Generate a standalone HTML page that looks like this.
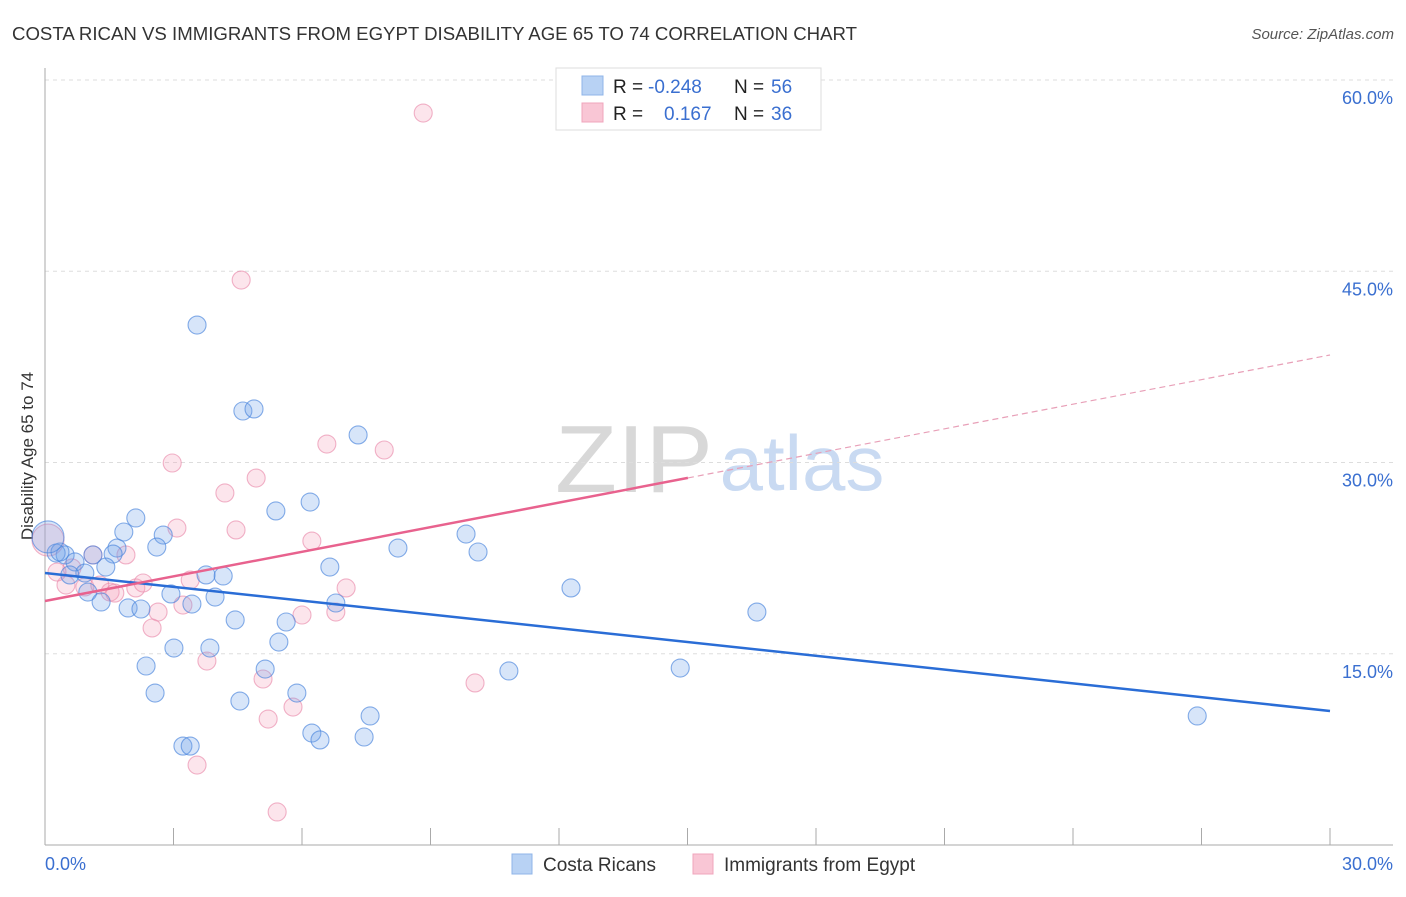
<!DOCTYPE html>
<html><head><meta charset="utf-8"><style>
body{margin:0;background:#fff;font-family:"Liberation Sans",sans-serif;}
svg text{font-family:"Liberation Sans",sans-serif;}
</style></head><body>
<svg id="chart" width="1406" height="892" xmlns="http://www.w3.org/2000/svg">
<text x="12" y="40" font-size="18" fill="#333" textLength="845" lengthAdjust="spacingAndGlyphs">COSTA RICAN VS IMMIGRANTS FROM EGYPT DISABILITY AGE 65 TO 74 CORRELATION CHART</text>
<text x="1394" y="39" font-size="15" fill="#555" text-anchor="end" font-style="italic">Source: ZipAtlas.com</text>
<text transform="translate(33,456) rotate(-90)" font-size="17" fill="#333" text-anchor="middle">Disability Age 65 to 74</text>
<g>
<text x="634" y="492" font-size="96" fill="#d8d8d8" text-anchor="middle" font-family="Liberation Serif, serif" textLength="158" lengthAdjust="spacingAndGlyphs">ZIP</text>
<text x="802" y="490" font-size="78" fill="#c9daf2" text-anchor="middle">atlas</text>
</g>
<g id="grid"></g><g id="axes"></g><g id="pts"></g><g id="lines"></g>
<g>
<rect x="556" y="68" width="265" height="62" fill="#fff" stroke="#ddd"/>
<rect x="582" y="76" width="21" height="19" fill="#b8d2f4" stroke="#8fb4e8"/>
<rect x="582" y="103" width="21" height="19" fill="#f9c6d5" stroke="#f0a5bc"/>
<text y="93" font-size="19" fill="#222"><tspan x="613">R =</tspan><tspan x="648" fill="#3a6fd0">-0.248</tspan><tspan x="734">N =</tspan><tspan x="771" fill="#3a6fd0">56</tspan></text>
<text y="120" font-size="19" fill="#222"><tspan x="613">R =</tspan><tspan x="664" fill="#3a6fd0">0.167</tspan><tspan x="734">N =</tspan><tspan x="771" fill="#3a6fd0">36</tspan></text>
</g>
<g>
<rect x="512" y="854" width="20" height="20" fill="#b8d2f4" stroke="#8fb4e8"/>
<text x="543" y="871" font-size="19" fill="#333">Costa Ricans</text>
<rect x="693" y="854" width="20" height="20" fill="#f9c6d5" stroke="#f0a5bc"/>
<text x="724" y="871" font-size="19" fill="#333">Immigrants from Egypt</text>
</g>
</svg>
<script>
const blueX=[3.55,4.62,4.88,7.31,6.19,5.39,2.12,1.84,2.76,2.61,1.68,1.59,9.83,8.24,10.11,0.47,0.26,0.70,1.12,1.42,0.93,0.58,3.76,4.16,6.65,12.28,2.94,1.00,1.31,1.94,2.24,3.97,3.43,6.79,16.62,4.44,5.63,5.46,3.85,3.01,2.36,5.14,10.83,14.83,2.57,5.88,4.55,7.59,6.23,6.42,7.45,3.22,3.39,26.90,0.35,0.07];
const blueY=[40.78,34.04,34.20,32.16,26.90,26.20,25.65,24.55,24.31,23.37,23.29,22.82,24.39,23.29,22.98,22.75,22.90,22.20,22.75,21.80,21.33,21.18,21.18,21.10,21.80,20.16,19.69,19.84,19.06,18.59,18.51,19.45,18.90,18.98,18.27,17.65,17.49,15.92,15.45,15.45,14.04,13.80,13.65,13.88,11.92,11.92,11.29,10.12,8.78,8.24,8.47,7.76,7.76,10.12,22.98,24.16];
const pinkX=[8.83,4.58,2.97,6.58,7.92,4.20,4.93,3.08,4.46,6.23,1.12,1.89,0.63,0.49,0.93,1.52,2.12,2.29,3.39,7.03,2.64,3.22,6.00,6.79,2.50,3.78,5.09,10.04,5.79,5.21,3.55,5.42,0.07,0.28,1.28,1.63];
const pinkY=[57.41,44.31,29.96,31.45,30.98,27.61,28.78,24.86,24.71,23.84,22.75,22.75,21.73,20.39,20.24,19.84,20.16,20.55,20.78,20.16,18.27,18.82,18.04,18.27,17.02,14.43,13.02,12.71,10.82,9.88,6.27,2.59,23.92,21.41,20.39,19.76];
const blueLine=[21.33,10.51];
const pinkLine=[19.14,38.43];
const pinkSolidEnd=15.01;
const yTicks=[15,30,45,60];
const xTicks=[0,3,6,9,12,15,18,21,24,27,30];
const NS="http://www.w3.org/2000/svg";
const sx=v=>45+v*1285/30, sy=v=>845-v*765/60;
function mk(parent,tag,attrs){const e=document.createElementNS(NS,tag);for(const k in attrs)e.setAttribute(k,attrs[k]);document.getElementById(parent).appendChild(e);return e;}
yTicks.forEach(t=>{
 const g=mk('grid','line',{x1:45,x2:1393,y1:sy(t),y2:sy(t),stroke:'#ddd','stroke-dasharray':'4,4'});
 
 
 const l=mk('grid','text',{x:1393,y:sy(t)+24,'font-size':18,fill:'#3a6fd0','text-anchor':'end'});
 l.textContent=t.toFixed(1)+'%';
 
 
});
const ax=mk('axes','line',{x1:45,x2:45,y1:68,y2:845,stroke:'#aaa'});


const bx=mk('axes','line',{x1:45,x2:1393,y1:845,y2:845,stroke:'#aaa'});


xTicks.forEach(t=>{
 const k=mk('axes','line',{x1:sx(t),x2:sx(t),y1:828,y2:845,stroke:'#aaa'});
 
 
});
[[0,'start','0.0%'],[30,'end','30.0%']].forEach(a=>{
 const l=mk('axes','text',{x:sx(a[0])+(a[0]?63:0),y:870,'font-size':18,fill:'#3a6fd0','text-anchor':a[1]});
 l.textContent=a[2];
 
 
});
function pts(X,Y,fill,stroke,name){X.forEach((x,i)=>{
 const big=x<0.1;
 const c=mk('pts','circle',{cx:sx(x),cy:sy(Y[i]),r:big?16:9,fill:fill,stroke:stroke,'stroke-width':1.1});
 
 
});}
pts(pinkX,pinkY,'rgba(244,160,188,0.28)','rgba(232,130,165,0.6)','egypt-point');
pts(blueX,blueY,'rgba(110,160,235,0.28)','rgba(70,130,220,0.65)','costa-rican-point');
const bl=mk('lines','line',{x1:sx(0),y1:sy(blueLine[0]),x2:sx(30),y2:sy(blueLine[1]),stroke:'#2a6dd6','stroke-width':2.5});


const pm=pinkLine[0]+(pinkLine[1]-pinkLine[0])*pinkSolidEnd/30;
const pl=mk('lines','line',{x1:sx(0),y1:sy(pinkLine[0]),x2:sx(pinkSolidEnd),y2:sy(pm),stroke:'#e8628e','stroke-width':2.5});


const pd=mk('lines','line',{x1:sx(pinkSolidEnd),y1:sy(pm),x2:sx(30),y2:sy(pinkLine[1]),stroke:'#e8a0b8','stroke-width':1.2,'stroke-dasharray':'6,4'});


</script>
</body></html>
